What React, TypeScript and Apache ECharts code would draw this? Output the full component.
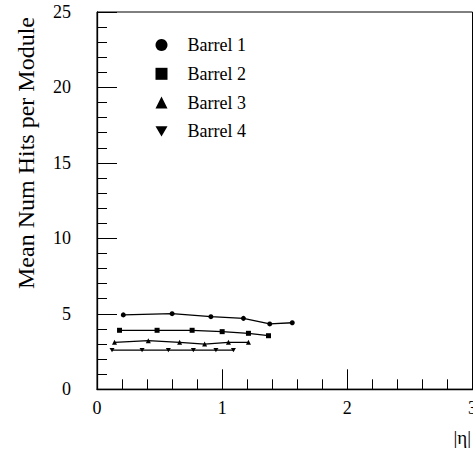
import React, { useEffect, useRef } from "react";
import * as echarts from "echarts";

const seriesNames = ["Barrel 1", "Barrel 2", "Barrel 3", "Barrel 4"];
const eta1 = [0.21, 0.6, 0.91, 1.17, 1.38, 1.56];
const hits1 = [4.93, 5.01, 4.81, 4.7, 4.33, 4.41];
const eta2 = [0.18, 0.48, 0.76, 1.0, 1.21, 1.37];
const hits2 = [3.91, 3.91, 3.91, 3.82, 3.71, 3.55];
const eta3 = [0.14, 0.41, 0.66, 0.86, 1.05, 1.21];
const hits3 = [3.11, 3.22, 3.11, 3.0, 3.11, 3.11];
const eta4 = [0.12, 0.36, 0.57, 0.77, 0.95, 1.09];
const hits4 = [2.6, 2.6, 2.6, 2.6, 2.6, 2.6];

const yTitle = "Mean Num Hits per Module";
const xTitle = "|η|";

const FONT = "Liberation Serif";
const DOWN_TRI = "path://M0,0L2,0L1,1.732Z";
const symbols = ["circle", "rect", "triangle", DOWN_TRI];

export default function App() {
  const ref = useRef<HTMLDivElement>(null);
  useEffect(() => {
    if (!ref.current) return;
    const chart = echarts.init(ref.current, undefined, { renderer: "svg" });
    const xs = [eta1, eta2, eta3, eta4];
    const ys = [hits1, hits2, hits3, hits4];
    const series = seriesNames.map((name, i) => ({
      name,
      type: "line",
      data: xs[i].map((x, j) => [x, ys[i][j]]),
      symbol: symbols[i],
      symbolSize: 5,
      symbolKeepAspect: true,
      showAllSymbol: true,
      lineStyle: { color: "#000", width: 1.3 },
      itemStyle: { color: "#000" },
      emphasis: { disabled: true },
    }));
    chart.setOption({
      animation: false,
      backgroundColor: "#fff",
      textStyle: { fontFamily: FONT },
      grid: {
        left: 97,
        width: 378,
        top: 12,
        bottom: 61.7,
        show: true,
        borderColor: "#000",
        borderWidth: 1,
        containLabel: false,
      },
      legend: {
        orient: "vertical",
        left: 150.5,
        top: 31,
        itemWidth: 12,
        itemHeight: 12,
        itemGap: 10.8,
        selectedMode: false,
        data: seriesNames.map((n, i) => ({ name: n, icon: symbols[i] })),
        textStyle: {
          fontFamily: FONT,
          fontSize: 18,
          color: "#000",
          padding: [0, 0, 0, 15],
        },
        itemStyle: { color: "#000" },
        lineStyle: { width: 0 },
      },
      xAxis: {
        type: "value",
        min: 0,
        max: 3,
        interval: 1,
        axisLine: { show: true, lineStyle: { color: "#000", width: 1.3 } },
        axisTick: { show: true, inside: true, length: 20, lineStyle: { color: "#000", width: 1 } },
        minorTick: { show: true, splitNumber: 5, length: 10, lineStyle: { color: "#000", width: 1 } },
        splitLine: { show: false },
        axisLabel: { fontFamily: FONT, fontSize: 18, color: "#000", margin: 10 },
      },
      yAxis: {
        type: "value",
        min: 0,
        max: 25,
        interval: 5,
        axisLine: { show: true, lineStyle: { color: "#000", width: 1.3 } },
        axisTick: { show: true, inside: true, length: 20, lineStyle: { color: "#000", width: 1 } },
        minorTick: { show: true, splitNumber: 5, length: 10, lineStyle: { color: "#000", width: 1 } },
        splitLine: { show: false },
        axisLabel: { fontFamily: FONT, fontSize: 18, color: "#000", margin: 26 },
      },
      graphic: [
        {
          type: "text",
          x: 26,
          y: 153,
          rotation: Math.PI / 2,
          style: {
            text: yTitle,
            fontFamily: FONT,
            fontSize: 24,
            fill: "#000",
            align: "center",
            verticalAlign: "middle",
          },
        },
        {
          type: "text",
          x: 471,
          y: 437,
          style: {
            text: xTitle,
            fontFamily: FONT,
            fontSize: 19,
            fill: "#000",
            align: "right",
            verticalAlign: "middle",
          },
        },
      ],
      series,
    });
    return () => chart.dispose();
  }, []);
  return (
    <div
      style={{ position: "fixed", left: 0, top: 0, width: 473, height: 451, overflow: "hidden" }}
    >
      <div ref={ref} style={{ width: 480, height: 451 }} />
    </div>
  );
}
